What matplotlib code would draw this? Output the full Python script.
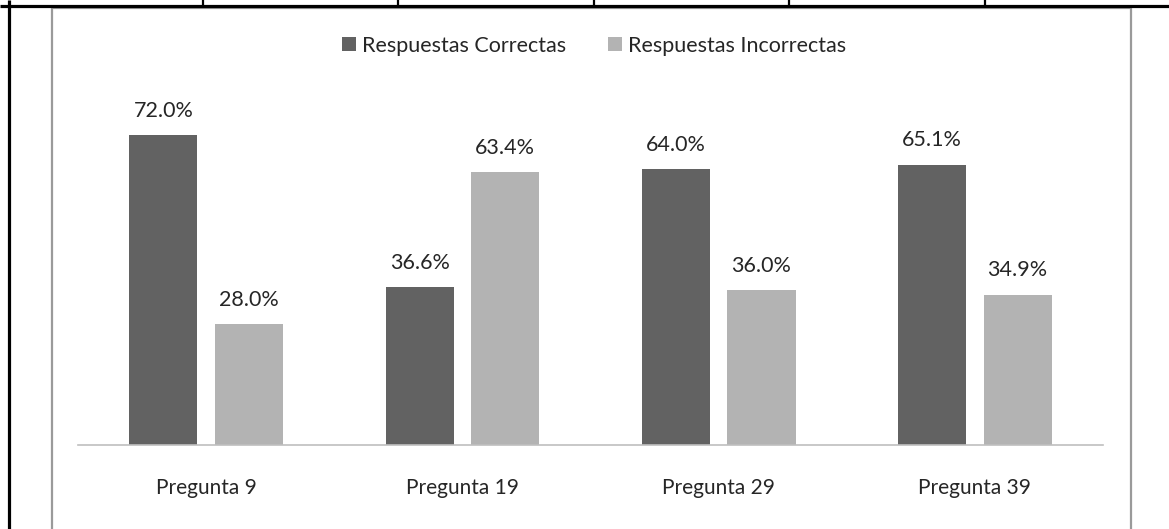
import numpy as np
import matplotlib
matplotlib.use("Agg")
import matplotlib.pyplot as plt
from matplotlib.lines import Line2D
from matplotlib.patches import Rectangle

preguntas = ["Pregunta 9", "Pregunta 19", "Pregunta 29", "Pregunta 39"]
correctas = [72.0, 36.6, 64.0, 65.1]
incorrectas = [28.0, 63.4, 36.0, 34.9]
series = ["Respuestas Correctas", "Respuestas Incorrectas"]

OSCURO = "#626262"
CLARO = "#b3b3b3"
TEXTO = "#262626"
FUENTE = "Lato"
TAM = 15.5

W, H = 1169, 529
fig = plt.figure(figsize=(W / 100, H / 100), dpi=100)
fig.patch.set_facecolor("white")

# ejes: base en y=445 px, 80% arriba
x0, x1 = 78, 1103
y_base, px_por_pct = 445, 310 / 72.0
ax = fig.add_axes([x0 / W, (H - y_base) / H, (x1 - x0) / W, 80 * px_por_pct / H])

x = np.arange(len(preguntas))
ancho, desp = 0.266, 0.167
b1 = ax.bar(x - desp, correctas, ancho, color=OSCURO, zorder=2)
b2 = ax.bar(x + desp, incorrectas, ancho, color=CLARO, zorder=2)

for barras, vals in ((b1, correctas), (b2, incorrectas)):
    for r, v in zip(barras, vals):
        ax.annotate(f"{v:.1f}%", (r.get_x() + r.get_width() / 2, v),
                    xytext=(0, 13.3), textcoords="offset points",
                    ha="center", va="baseline", fontsize=TAM,
                    family=FUENTE, color=TEXTO)

ax.set_xlim(-0.5, len(preguntas) - 0.5)
ax.set_ylim(0, 80)
ax.set_xticks(x)
ax.set_xticklabels(preguntas, family=FUENTE, fontsize=TAM - 0.5, color=TEXTO)
ax.tick_params(axis="x", length=0, pad=24)
ax.set_yticks([])
for lado in ("left", "right", "top"):
    ax.spines[lado].set_visible(False)
ax.spines["bottom"].set_color("#bfbfbf")
ax.spines["bottom"].set_linewidth(1.2)
ax.patch.set_alpha(0)

# leyenda superior
manijas = [Line2D([], [], ls="none", marker="s", markersize=9.8,
                  markerfacecolor=c, markeredgewidth=0) for c in (OSCURO, CLARO)]
fig.legend(manijas, series, loc="center", ncol=2,
           bbox_to_anchor=(594.5 / W, 1 - 46 / H), frameon=False,
           prop={"family": FUENTE, "size": TAM}, labelcolor=TEXTO,
           handlelength=0.6, handletextpad=0.3, columnspacing=2.0,
           borderpad=0, borderaxespad=0)

# marco gris del gráfico
fig.add_artist(Rectangle((52 / W, -0.05), (1131 - 52) / W, 1.05 - 8 / H,
                         transform=fig.transFigure, fill=False,
                         edgecolor="#9a9a9a", linewidth=1.6, zorder=0))

# bordes de la tabla
def linea(xs, ys, lw):
    fig.add_artist(Line2D(np.array(xs) / W, 1 - np.array(ys) / H,
                          transform=fig.transFigure, color="black",
                          linewidth=lw, solid_capstyle="butt"))

linea([0, W], [5.5, 5.5], 2.3)
linea([8.5, 8.5], [0, H], 2.3)
for xv in (203, 398, 594, 789, 985):
    linea([xv, xv], [0, 5], 1.6)

fig.savefig("out.png", dpi=100)
